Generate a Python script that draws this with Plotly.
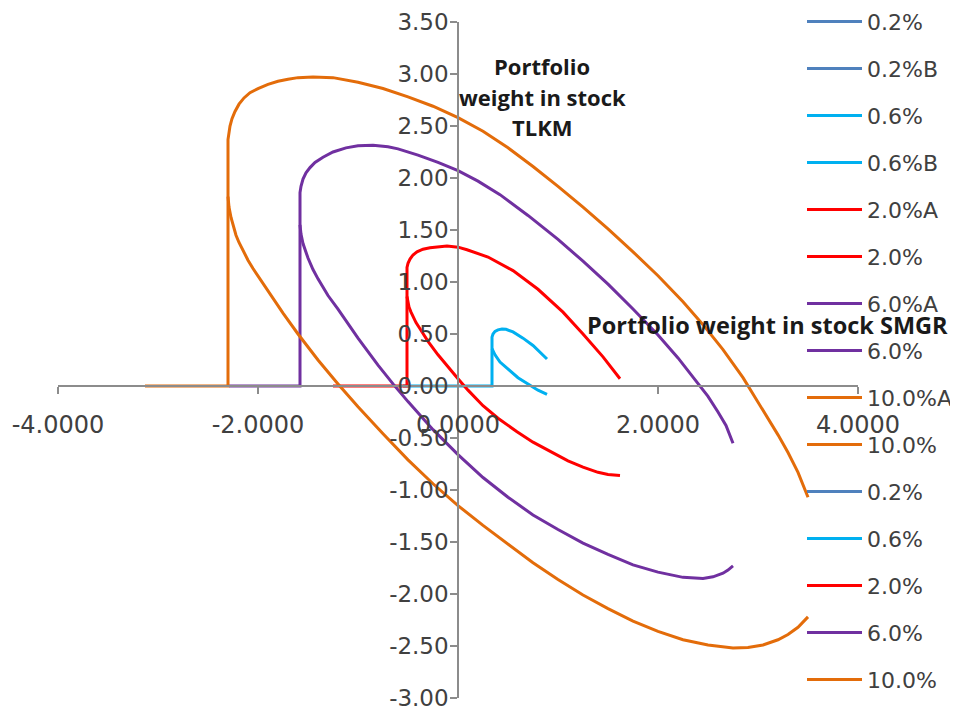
import plotly.graph_objects as go

# ---------------- data ----------------
# 0.6% iso-variance curve
x_06_upper = [-0.55, 0.34, 0.34, 0.35, 0.37, 0.40, 0.44, 0.48, 0.55, 0.65, 0.75, 0.89]
y_06_upper = [0.00, 0.00, 0.47, 0.50, 0.525, 0.54, 0.548, 0.545, 0.52, 0.46, 0.39, 0.26]
x_06_lower = [0.34, 0.37, 0.42, 0.49, 0.60, 0.70, 0.80, 0.89]
y_06_lower = [0.36, 0.30, 0.23, 0.17, 0.08, 0.02, -0.04, -0.08]

# 2.0% iso-variance curve
x_20_upper = [-1.25, -0.51, -0.51, -0.50, -0.48, -0.45, -0.41, -0.35, -0.28, -0.20,
              -0.11, 0.00, 0.09, 0.30, 0.55, 0.80, 1.05, 1.25, 1.45, 1.62]
y_20_upper = [0.00, 0.00, 1.14, 1.18, 1.22, 1.26, 1.29, 1.315, 1.33, 1.34,
              1.345, 1.335, 1.31, 1.24, 1.11, 0.93, 0.71, 0.50, 0.28, 0.07]
x_20_lower = [-0.51, -0.50, -0.49, -0.47, -0.45, -0.42, -0.38, -0.30, -0.20, -0.10,
              0.00, 0.10, 0.25, 0.40, 0.59, 0.75, 0.92, 1.10, 1.25, 1.40,
              1.50, 1.62]
y_20_lower = [0.86, 0.80, 0.76, 0.71, 0.67, 0.61, 0.55, 0.43, 0.30, 0.18,
              0.07, -0.04, -0.19, -0.31, -0.44, -0.54, -0.63, -0.72, -0.78, -0.83,
              -0.85, -0.86]

# 6.0% iso-variance curve
x_60_upper = [-2.29, -1.58, -1.58, -1.57, -1.55, -1.52, -1.48, -1.43, -1.35, -1.25,
              -1.12, -1.00, -0.85, -0.70, -0.60, -0.40, -0.20, 0.00, 0.20, 0.42,
              0.70, 1.00, 1.25, 1.50, 1.75, 2.00, 2.20, 2.40, 2.50, 2.60,
              2.68, 2.75]
y_60_upper = [0.00, 0.00, 1.86, 1.92, 1.99, 2.05, 2.10, 2.15, 2.20, 2.25,
              2.29, 2.31, 2.315, 2.30, 2.28, 2.22, 2.15, 2.07, 1.97, 1.84,
              1.64, 1.41, 1.20, 0.98, 0.74, 0.49, 0.27, 0.03, -0.10, -0.25,
              -0.38, -0.55]
x_60_lower = [-1.58, -1.57, -1.55, -1.52, -1.50, -1.45, -1.40, -1.30, -1.20, -1.00,
              -0.80, -0.65, -0.50, -0.25, 0.00, 0.25, 0.50, 0.75, 1.00, 1.25,
              1.50, 1.75, 2.00, 2.25, 2.45, 2.55, 2.65, 2.70, 2.75]
y_60_lower = [1.55, 1.46, 1.37, 1.28, 1.23, 1.12, 1.03, 0.87, 0.74, 0.46,
              0.20, 0.02, -0.15, -0.42, -0.66, -0.88, -1.07, -1.24, -1.38, -1.51,
              -1.62, -1.72, -1.79, -1.84, -1.85, -1.835, -1.80, -1.77, -1.73]

# 10.0% iso-variance curve
x_100_upper = [-3.13, -2.30, -2.30, -2.29, -2.28, -2.26, -2.23, -2.19, -2.14, -2.08,
               -2.00, -1.90, -1.80, -1.70, -1.60, -1.45, -1.25, -1.00, -0.75, -0.50,
               -0.25, 0.00, 0.25, 0.50, 0.75, 1.00, 1.25, 1.50, 1.75, 2.00,
               2.25, 2.45, 2.65, 2.85, 3.00, 3.10, 3.20, 3.30, 3.40, 3.50]
y_100_upper = [0.00, 0.00, 2.37, 2.45, 2.50, 2.57, 2.64, 2.71, 2.77, 2.82,
               2.86, 2.90, 2.93, 2.95, 2.965, 2.97, 2.965, 2.92, 2.86, 2.78,
               2.69, 2.58, 2.45, 2.29, 2.11, 1.92, 1.72, 1.51, 1.29, 1.06,
               0.81, 0.59, 0.35, 0.08, -0.15, -0.31, -0.47, -0.64, -0.83, -1.07]
x_100_lower = [-2.30, -2.29, -2.27, -2.25, -2.22, -2.19, -2.15, -2.10, -2.05, -1.98,
               -1.90, -1.75, -1.60, -1.40, -1.20, -1.00, -0.75, -0.50, -0.25, 0.00,
               0.25, 0.50, 0.75, 1.00, 1.25, 1.50, 1.75, 2.00, 2.25, 2.50,
               2.75, 2.90, 3.05, 3.20, 3.30, 3.40, 3.50]
y_100_lower = [1.82, 1.72, 1.62, 1.54, 1.45, 1.38, 1.30, 1.21, 1.13, 1.03,
               0.91, 0.70, 0.50, 0.25, 0.02, -0.20, -0.46, -0.71, -0.94, -1.15,
               -1.34, -1.52, -1.70, -1.86, -2.01, -2.14, -2.26, -2.36, -2.44, -2.49,
               -2.52, -2.515, -2.49, -2.44, -2.39, -2.32, -2.22]

series_names = ["0.2%", "0.2%B", "0.6%", "0.6%B", "2.0%A", "2.0%", "6.0%A", "6.0%",
                "10.0%A", "10.0%", "0.2%", "0.6%", "2.0%", "6.0%", "10.0%"]
series_x = [[None], [None], x_06_upper, x_06_lower, x_20_upper, x_20_lower,
            x_60_upper, x_60_lower, x_100_upper, x_100_lower,
            [None], [None], [None], [None], [None]]
series_y = [[None], [None], y_06_upper, y_06_lower, y_20_upper, y_20_lower,
            y_60_upper, y_60_lower, y_100_upper, y_100_lower,
            [None], [None], [None], [None], [None]]
series_colors = ["#4F81BD", "#4F81BD", "#00B0F0", "#00B0F0", "#FF0000", "#FF0000",
                 "#7030A0", "#7030A0", "#E36C0A", "#E36C0A",
                 "#4F81BD", "#00B0F0", "#FF0000", "#7030A0", "#E36C0A"]

x_tickvals = [-4, -2, 0, 2, 4]
x_ticktext = ["-4.0000", "-2.0000", "0.0000", "2.0000", "4.0000"]
y_tickvals = [-3.0, -2.5, -2.0, -1.5, -1.0, -0.5, 0.0, 0.5, 1.0, 1.5, 2.0, 2.5, 3.0, 3.5]
y_ticktext = ["-3.00", "-2.50", "-2.00", "-1.50", "-1.00", "-0.50", "0.00",
              "0.50", "1.00", "1.50", "2.00", "2.50", "3.00", "3.50"]

y_title_lines = ["Portfolio", "weight in stock", "TLKM"]
x_title = "Portfolio weight in stock SMGR"

# ---------------- figure ----------------
# the page body adds an 8px margin, so the figure is sized to fill the rest
OFF = 8
W, H = 958 - OFF, 717 - OFF
ML, MR, MT, MB = 58 - OFF, 100, 22 - OFF, 19
PW, PH = W - ML - MR, H - MT - MB
FS = 22
item_h = FS * 1.3 + 3
spacing = 47.0

fig = go.Figure()
for i, (nm, xs, ys, col) in enumerate(zip(series_names, series_x, series_y, series_colors)):
    fig.add_trace(go.Scatter(
        x=xs, y=ys, name=nm, mode="lines",
        line=dict(color=col, width=3),
        legendgroup="g%d" % i, showlegend=True, hoverinfo="skip",
        legend="legend" if i < 7 else "legend2",
    ))

axis_col = "#8C8C8C"
leg_common = dict(
    xanchor="left", yanchor="top", traceorder="grouped",
    tracegroupgap=spacing - item_h, itemwidth=55,
    font=dict(family="DejaVu Sans", size=FS, color="#404040"),
    bgcolor="rgba(0,0,0,0)", borderwidth=0,
)
first_center = 23 - OFF
off = 5 + item_h / 2 + 1.6
leg1_top = first_center - off
leg2_top = first_center + 7 * spacing - off
leg_x = (802 - OFF - ML) / PW

fig.update_layout(
    width=W, height=H,
    margin=dict(l=ML, r=MR, t=MT, b=MB, autoexpand=False),
    paper_bgcolor="white", plot_bgcolor="white",
    font=dict(family="DejaVu Sans", size=23, color="#404040"),
    showlegend=True,
    legend=dict(x=leg_x, y=(H - MB - leg1_top) / PH, **leg_common),
    legend2=dict(x=leg_x, y=(H - MB - leg2_top) / PH, **leg_common),
    xaxis=dict(
        range=[-4, 4], tickvals=x_tickvals, ticktext=x_ticktext,
        showgrid=False, zeroline=False, showline=True,
        linecolor=axis_col, linewidth=1.5, ticks="outside", ticklen=7,
        tickcolor=axis_col, tickwidth=1.5, anchor="free", position=3 / 6.5,
        ticklabelstandoff=10, fixedrange=True,
        tickfont=dict(family="DejaVu Sans", size=24, color="#404040"),
    ),
    yaxis=dict(
        range=[-3, 3.5], tickvals=y_tickvals, ticktext=y_ticktext,
        showgrid=False, zeroline=False, showline=True,
        linecolor=axis_col, linewidth=1.5, ticks="outside", ticklen=7,
        tickcolor=axis_col, tickwidth=1.5, anchor="free", position=0.5,
        ticklabelstandoff=-3, fixedrange=True,
        tickfont=dict(family="DejaVu Sans", size=23, color="#404040"),
    ),
)

title_font = dict(family="Open Sans", size=22, color="#1a1a1a", weight="bold")
for line_txt, yy in zip(y_title_lines, [3.08, 2.78, 2.49]):
    fig.add_annotation(
        text=line_txt, xref="x", yref="y", x=0.84, y=yy, showarrow=False,
        xanchor="center", yanchor="middle", font=title_font,
    )
fig.add_annotation(
    text=x_title, xref="x", yref="y", x=1.27, y=0.59, showarrow=False,
    xanchor="left", yanchor="middle",
    font=dict(family="Open Sans", size=23.5, color="#1a1a1a", weight="bold"),
)

fig.write_html("out.html")
